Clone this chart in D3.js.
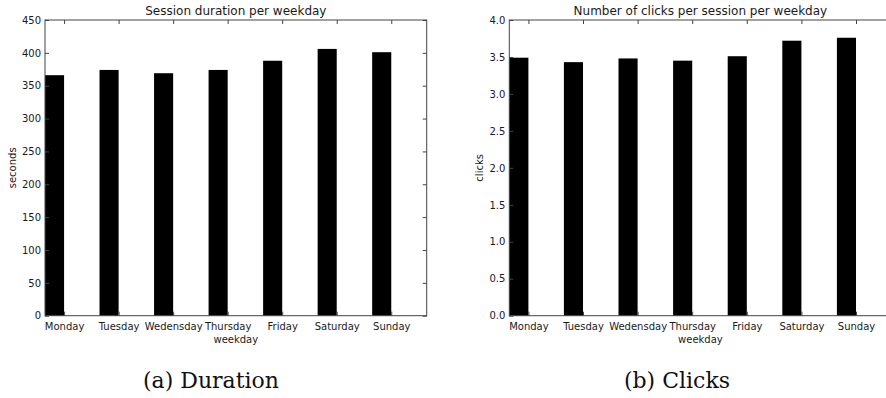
<!DOCTYPE html>
<html>
<head>
<meta charset="utf-8">
<script src="https://cdn.jsdelivr.net/npm/d3@7"></script>
<style>
  html, body { margin: 0; padding: 0; background: #fff; }
  svg { display: block; }
  text { font-family: "DejaVu Sans", sans-serif; fill: #1a1a1a; }
  .caption { font-family: "DejaVu Serif", serif; fill: #111; }
</style>
</head>
<body>
<svg id="fig" width="886" height="398"></svg>
<script>
// Weekday categories shared by both panels
const weekdays = ["Monday", "Tuesday", "Wedensday", "Thursday", "Friday", "Saturday", "Sunday"];

// Mean session duration (seconds) per weekday
const durationSeconds = [366, 374, 369, 374, 388, 406, 401];

// Mean number of clicks per session per weekday
const clicksPerSession = [3.49, 3.43, 3.48, 3.45, 3.51, 3.72, 3.76];

// Y tick labels
const durationTicks = [0, 50, 100, 150, 200, 250, 300, 350, 400, 450];
const clickTicks = [0, 0.5, 1.0, 1.5, 2.0, 2.5, 3.0, 3.5, 4.0];

const svg = d3.select("#fig");
const BAR_WIDTH = 0.35;

function panel(opts) {
  const { left, right, top, bottom, values, yMax, ticks, tickFmt, title, ylabel, ylabelX, caption, captionX } = opts;
  const g = svg.append("g");

  const x = d3.scaleLinear().domain([0, weekdays.length]).range([left, right]);
  const y = d3.scaleLinear().domain([0, yMax]).range([bottom, top]);

  // bars
  g.selectAll("rect.bar").data(values).join("rect")
    .attr("class", "bar")
    .attr("x", (d, i) => x(i))
    .attr("width", (d, i) => x(i + BAR_WIDTH) - x(i))
    .attr("y", d => y(d))
    .attr("height", d => y(0) - y(d))
    .attr("fill", "#000");

  // frame
  g.append("rect")
    .attr("x", left).attr("y", top)
    .attr("width", right - left).attr("height", bottom - top)
    .attr("fill", "none").attr("stroke", "#444").attr("stroke-width", 1);

  const tickPos = weekdays.map((d, i) => i + BAR_WIDTH);

  // bottom axis: inward ticks, labels below
  const xb = d3.axisBottom(x).tickValues(tickPos).tickFormat((d, i) => weekdays[i])
    .tickSizeInner(-4).tickSizeOuter(0).tickPadding(7);
  const gxb = g.append("g").attr("transform", `translate(0,${bottom})`).call(xb);
  gxb.select(".domain").remove();
  gxb.selectAll("line").attr("stroke", "#444");
  gxb.selectAll("text").attr("font-size", 10).attr("fill", "#1a1a1a")
    .attr("font-family", "DejaVu Sans, sans-serif");

  // top axis: inward ticks only
  const xt = d3.axisTop(x).tickValues(tickPos).tickFormat("").tickSizeInner(-4).tickSizeOuter(0);
  const gxt = g.append("g").attr("transform", `translate(0,${top})`).call(xt);
  gxt.select(".domain").remove();
  gxt.selectAll("line").attr("stroke", "#444");

  // left axis
  const yl = d3.axisLeft(y).tickValues(ticks).tickFormat(tickFmt)
    .tickSizeInner(-4).tickSizeOuter(0).tickPadding(4);
  const gyl = g.append("g").attr("transform", `translate(${left},0)`).call(yl);
  gyl.select(".domain").remove();
  gyl.selectAll("line").attr("stroke", "#444");
  gyl.selectAll("text").attr("font-size", 10).attr("fill", "#1a1a1a")
    .attr("font-family", "DejaVu Sans, sans-serif");

  // right axis: inward ticks only
  const yr = d3.axisRight(y).tickValues(ticks).tickFormat("").tickSizeInner(-4).tickSizeOuter(0);
  const gyr = g.append("g").attr("transform", `translate(${right},0)`).call(yr);
  gyr.select(".domain").remove();
  gyr.selectAll("line").attr("stroke", "#444");

  // title
  g.append("text")
    .attr("x", (left + right) / 2).attr("y", top - 5)
    .attr("text-anchor", "middle").attr("font-size", 12)
    .text(title);

  // x label
  g.append("text")
    .attr("x", (left + right) / 2).attr("y", bottom + 27)
    .attr("text-anchor", "middle").attr("font-size", 10)
    .text("weekday");

  // y label
  g.append("text")
    .attr("transform", `translate(${ylabelX},${(top + bottom) / 2}) rotate(-90)`)
    .attr("text-anchor", "middle").attr("font-size", 10)
    .text(ylabel);

  // sub-figure caption
  g.append("text")
    .attr("class", "caption")
    .attr("x", captionX).attr("y", 388)
    .attr("text-anchor", "middle").attr("font-size", 22)
    .text(caption);
}

panel({
  left: 45, right: 426.7, top: 20, bottom: 315.7,
  values: durationSeconds, yMax: 450, ticks: durationTicks,
  tickFmt: d3.format("d"),
  title: "Session duration per weekday",
  ylabel: "seconds", ylabelX: 16,
  caption: "(a) Duration", captionX: 211
});

panel({
  left: 509.3, right: 891.5, top: 20, bottom: 315.7,
  values: clicksPerSession, yMax: 4.0, ticks: clickTicks,
  tickFmt: d3.format(".1f"),
  title: "Number of clicks per session per weekday",
  ylabel: "clicks", ylabelX: 483,
  caption: "(b) Clicks", captionX: 677
});
</script>
</body>
</html>
